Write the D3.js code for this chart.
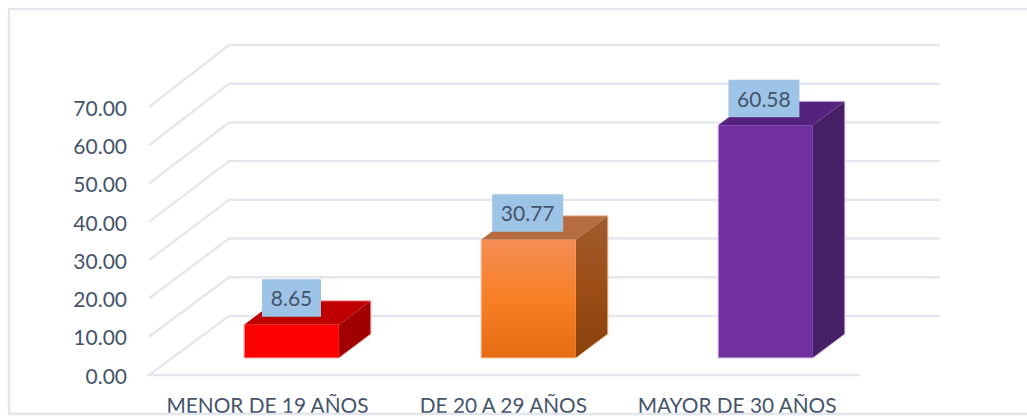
<!DOCTYPE html>
<html><head><meta charset="utf-8">
<script src="https://cdn.jsdelivr.net/npm/d3@7/dist/d3.min.js"></script>
<style>html,body{margin:0;padding:0;background:#fff}svg{display:block}text{font-family:Lato,sans-serif;fill:#44546a}</style>
</head><body><svg id="c" width="1027" height="417"></svg>
<script>
const categories=["MENOR DE 19 AÑOS","DE 20 A 29 AÑOS","MAYOR DE 30 AÑOS"];
const values=[8.65,30.77,60.58];
const valueLabels=["8.65","30.77","60.58"];
const tickValues=[0,10,20,30,40,50,60,70];
const frontColors=["#ff0000","url(#og)","#7030a0"];
const topColors=["#c00000","#b76c40","#55237d"];
const sideColors=["#a00000","url(#os)","#471f67"];
const edgeColors=["#f8b0b0","#f6c5a0","#d8c4e6"];

const svg=d3.select("#c");
const defs=svg.append("defs");
const g1=defs.append("linearGradient").attr("id","og").attr("x1",0).attr("y1",0).attr("x2",0).attr("y2",1);
[[0,"#f58d55"],[.5,"#f77f26"],[1,"#e66c14"]].forEach(s=>g1.append("stop").attr("offset",s[0]).attr("stop-color",s[1]));
const g2=defs.append("linearGradient").attr("id","os").attr("x1",0).attr("y1",0).attr("x2",0).attr("y2",1);
[[0,"#a05c30"],[.5,"#9b4d15"],[1,"#8a420c"]].forEach(s=>g2.append("stop").attr("offset",s[0]).attr("stop-color",s[1]));

const gridC="#e4e7ed";
svg.append("rect").attr("x",9).attr("y",9).attr("width",1040).attr("height",405)
  .attr("fill","none").attr("stroke","#e3e7ed").attr("stroke-width",2.4);

const yFront=d3.scaleLinear().domain([0,70]).range([375,107]);
const yBack=d3.scaleLinear().domain([0,70]).range([316,45]);
const yBar=d3.scaleLinear().domain([0,70]).range([358,89]);
const x=d3.scaleBand().domain(categories).range([173,884]).paddingInner(.6).paddingOuter(.3);
const xFloorFront=149,xFloorBack=229,xEnd=940,xFrontEnd=860,dx=32,dy=24;

tickValues.forEach(t=>{
  const p=t===0?[[xFrontEnd,yFront(t)],[xFloorFront,yFront(t)],[xFloorBack,yBack(t)],[xEnd,yBack(t)]]
               :[[xFloorFront,yFront(t)],[xFloorBack,yBack(t)],[xEnd,yBack(t)]];
  svg.append("path").attr("d",d3.line()(p)).attr("fill","none").attr("stroke",gridC).attr("stroke-width",2.4);
});

const axisG=svg.append("g").attr("transform","translate(127,1.5)").call(d3.axisLeft(yFront).tickValues(tickValues).tickSize(0).tickPadding(0).tickFormat(d3.format(".2f")));
axisG.select(".domain").remove();
axisG.selectAll("text").style("font-family","Lato,sans-serif").style("font-size","21px").attr("fill","#44546a");

values.forEach((v,i)=>{
  const c=categories[i],l=x(c),r=l+x.bandwidth(),t=yBar(v),b=yBar(0);
  const g=svg.append("g");
  g.append("path").attr("d",d3.line()([[l,t],[r,t],[r+dx,t-dy],[l+dx,t-dy]])+"Z").attr("fill",topColors[i]);
  g.append("path").attr("d",d3.line()([[r,t],[r+dx,t-dy],[r+dx,b-dy],[r,b]])+"Z").attr("fill",sideColors[i]);
  g.append("rect").attr("x",l).attr("y",t).attr("width",r-l).attr("height",b-t).attr("fill",frontColors[i]);
  g.append("path").attr("d",d3.line()([[l,t],[l,b],[r,b],[r+dx,b-dy],[r+dx,t-dy],[l+dx,t-dy]])).attr("fill","none").attr("stroke",edgeColors[i]).attr("stroke-width",1);
  const w=i===0?59:71;
  const cx=l+x.bandwidth()/2-i*0.8;
  g.append("rect").attr("x",cx-w/2).attr("y",t-45.5).attr("width",w).attr("height",37.5).attr("fill","#9dc3e6");
  g.append("text").attr("x",cx).attr("y",t-26).attr("dy","0.35em").attr("text-anchor","middle").style("font-size","21px").text(valueLabels[i]);
});

const xa=svg.append("g").attr("transform","translate(0,406)");
categories.forEach((c,i)=>{
  xa.append("text").attr("x",x(c)+x.bandwidth()/2-24-i*i*1.1).attr("y",0).attr("dy","0.35em").attr("text-anchor","middle").style("font-size","20.8px").text(c);
});
svg.append("rect").attr("x",0).attr("y",413).attr("width",1027).attr("height",4).attr("fill","#fff");
svg.append("line").attr("x1",8).attr("x2",1027).attr("y1",414).attr("y2",414).attr("stroke","#e3e7ed").attr("stroke-width",2.4);
</script></body></html>
